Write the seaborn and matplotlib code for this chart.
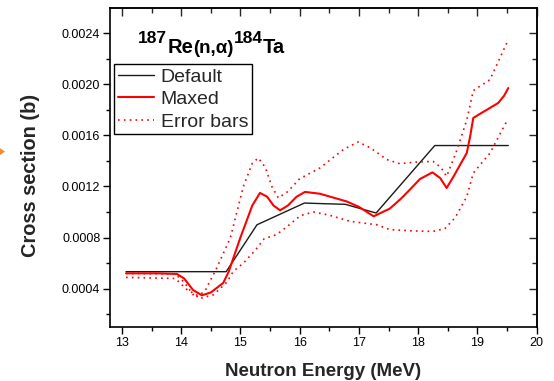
import numpy as np
import pandas as pd
import matplotlib
matplotlib.use("Agg")
import matplotlib.pyplot as plt
from matplotlib.patches import Polygon
import seaborn as sns

# Default spectrum-averaged cross section (piecewise linear)
default_energy = [13.07, 14.76, 15.28, 16.08, 16.40, 16.77, 17.29, 18.28, 19.52]
default_xs = [0.000533, 0.000533, 0.00090, 0.00107, 0.001065, 0.00106, 0.000992, 0.00152, 0.00152]

# Adjusted (MAXED) cross section
maxed_energy = [13.07, 13.60, 13.93, 14.05, 14.20, 14.35, 14.50, 14.71, 14.80, 15.00, 15.20,
                15.33, 15.45, 15.56, 15.67, 15.80, 15.95, 16.09, 16.34, 16.55, 16.79, 17.00,
                17.25, 17.40, 17.52, 17.70, 17.85, 18.03, 18.24, 18.37, 18.48, 18.60, 18.72,
                18.82, 18.88, 18.93, 19.05, 19.16, 19.35, 19.45, 19.52]
maxed_xs = [0.000520, 0.000520, 0.000515, 0.000480, 0.000390, 0.000348, 0.000370, 0.000445,
            0.000530, 0.000800, 0.001050, 0.001149, 0.001120, 0.001050, 0.001013, 0.001050,
            0.001120, 0.001157, 0.001143, 0.001115, 0.001083, 0.001040, 0.000966, 0.001000,
            0.001026, 0.001100, 0.001170, 0.001258, 0.001310, 0.001266, 0.001188, 0.001280,
            0.001380, 0.001462, 0.001600, 0.001736, 0.001770, 0.001800, 0.001853, 0.001910,
            0.001970]

# Upper and lower uncertainty bounds
upper_energy = [13.07, 13.90, 14.05, 14.24, 14.40, 14.60, 14.83, 15.05, 15.20, 15.30, 15.42,
                15.53, 15.64, 15.80, 16.00, 16.34, 16.74, 16.99, 17.20, 17.47, 17.69, 17.95,
                18.25, 18.38, 18.48, 18.65, 18.82, 18.93, 19.21, 19.52]
upper_xs = [0.000520, 0.000515, 0.000450, 0.000330, 0.000380, 0.000562, 0.000797, 0.001200,
            0.001380, 0.001423, 0.001350, 0.001200, 0.001110, 0.001160, 0.001260, 0.001344,
            0.001490, 0.001548, 0.001500, 0.001410, 0.001378, 0.001390, 0.001396, 0.001350,
            0.001279, 0.001480, 0.001720, 0.001950, 0.002035, 0.002348]

lower_energy = [13.07, 13.90, 14.10, 14.35, 14.55, 14.77, 14.88, 15.05, 15.25, 15.40, 15.61,
                15.80, 16.01, 16.23, 16.50, 16.85, 17.30, 17.52, 17.90, 18.25, 18.45, 18.62,
                18.82, 18.93, 19.21, 19.50]
lower_xs = [0.000488, 0.000480, 0.000392, 0.000327, 0.000353, 0.000450, 0.000535, 0.000600,
            0.000700, 0.000790, 0.000823, 0.000890, 0.000971, 0.001000, 0.000975, 0.000927,
            0.000900, 0.000862, 0.000852, 0.000848, 0.000870, 0.000953, 0.001120, 0.001305,
            0.001460, 0.001715]

x_ticks = [13, 14, 15, 16, 17, 18, 19, 20]
y_ticks = [0.0004, 0.0008, 0.0012, 0.0016, 0.0020, 0.0024]
y_tick_labels = ["0.0004", "0.0008", "0.0012", "0.0016", "0.0020", "0.0024"]

# reaction label pieces: (text, font size, raised)
reaction_parts = [("187", 12.5, True), ("Re", 14.5, False), ("(n,α)", 13.5, False),
                  ("184", 12.5, True), ("Ta", 14.5, False)]

sns.set_theme(style="ticks")
plt.rcParams["font.family"] = ["Liberation Sans", "DejaVu Sans"]

fig = plt.figure(figsize=(5.54, 3.81), dpi=100)
ax = fig.add_axes([0.1986, 0.1417, 0.9688 - 0.1986, 0.9803 - 0.1417])

df_def = pd.DataFrame({"E": default_energy, "xs": default_xs})
df_max = pd.DataFrame({"E": maxed_energy, "xs": maxed_xs})
df_up = pd.DataFrame({"E": upper_energy, "xs": upper_xs})
df_lo = pd.DataFrame({"E": lower_energy, "xs": lower_xs})

sns.lineplot(data=df_def, x="E", y="xs", ax=ax, color="#1a1a1a", lw=1.0,
             sort=False, estimator=None, label="Default")
sns.lineplot(data=df_max, x="E", y="xs", ax=ax, color="#ff0000", lw=1.5,
             sort=False, estimator=None, label="Maxed")
sns.lineplot(data=df_up, x="E", y="xs", ax=ax, color="#ff0000", lw=1.2,
             linestyle=(0, (1, 2.5)), sort=False, estimator=None, label="Error bars")
sns.lineplot(data=df_lo, x="E", y="xs", ax=ax, color="#ff0000", lw=1.2,
             linestyle=(0, (1, 2.5)), sort=False, estimator=None)

ax.set_xlim(12.8, 20.0)
ax.set_ylim(0.0001, 0.0026)
ax.set_xticks(x_ticks)
ax.set_xticklabels([str(t) for t in x_ticks])
ax.set_xticks(np.arange(13.5, 20, 1.0), minor=True)
ax.set_yticks(y_ticks)
ax.set_yticklabels(y_tick_labels)
ax.set_yticks(np.arange(0.0002, 0.0026, 0.0004), minor=True)

ax.tick_params(which="major", direction="out", length=5, width=1.0, color="black",
               labelsize=9, pad=2, labelcolor="black")
ax.tick_params(which="minor", direction="out", length=3, width=1.0, color="black")

for side in ["left", "right", "top", "bottom"]:
    ax.spines[side].set_visible(True)
    ax.spines[side].set_linewidth(1.2)
    ax.spines[side].set_color("black")

# mirrored inward ticks on the top and right
top = ax.secondary_xaxis("top")
top.set_xticks(x_ticks)
top.set_xticks(np.arange(13.5, 20, 1.0), minor=True)
top.tick_params(which="major", direction="in", length=6, width=1.0, labeltop=False)
top.tick_params(which="minor", direction="in", length=3.5, width=1.0)
top.spines["top"].set_linewidth(1.2)
right = ax.secondary_yaxis("right")
right.set_yticks(y_ticks)
right.set_yticks(np.arange(0.0002, 0.0026, 0.0004), minor=True)
right.tick_params(which="major", direction="in", length=6, width=1.0, labelright=False)
right.tick_params(which="minor", direction="in", length=3.5, width=1.0)
right.spines["right"].set_linewidth(1.2)

ax.set_xlabel("Neutron Energy (MeV)", fontsize=13.5, fontweight="bold", labelpad=10)
ax.set_ylabel("Cross section (b)", fontsize=14.4, fontweight="bold", va="center")
ax.yaxis.set_label_coords(-0.186, 0.473)

# reaction label, laid out piece by piece
fig.canvas.draw()
renderer = fig.canvas.get_renderer()
x_disp, y_disp = ax.transAxes.transform((0.066, 0.857))
raise_px = 10
for txt, size, raised in reaction_parts:
    t = fig.text(x_disp / fig.bbox.width, (y_disp + (raise_px if raised else 0)) / fig.bbox.height,
                 txt, fontsize=size, fontweight="bold", ha="left", va="baseline",
                 color="black")
    ext = t.get_window_extent(renderer)
    x_disp = ext.x1

leg = ax.legend(loc="upper left", bbox_to_anchor=(0.0094, 0.823), borderaxespad=0,
                fontsize=14, frameon=True, fancybox=False, shadow=False,
                handlelength=1.85, handletextpad=0.35, labelspacing=0.25,
                borderpad=0.2)
leg.get_frame().set_edgecolor("black")
leg.get_frame().set_linewidth(1.0)
leg.get_frame().set_alpha(1)

# small orange pointer at the left margin
fig.patches.append(Polygon([[0.0, 0.611], [0.009, 0.602], [0.0, 0.593]], closed=True,
                           transform=fig.transFigure, facecolor="#f08a30",
                           edgecolor="none", figure=fig))

fig.savefig("out.png", dpi=100)
